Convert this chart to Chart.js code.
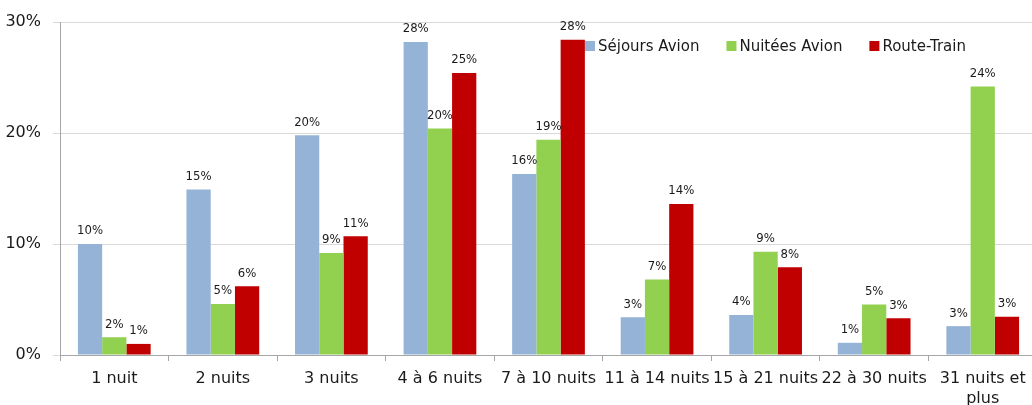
<!DOCTYPE html>
<html lang="fr">
<head>
<meta charset="utf-8">
<script src="https://cdn.jsdelivr.net/npm/chart.js@4"></script>
<style>
  html, body { margin: 0; padding: 0; background: #fff; overflow: hidden; }
  #wrap { width: 1040px; height: 405px; }
</style>
</head>
<body>
<div id="wrap"><canvas id="c" width="1040" height="405"></canvas></div>
<script>
// Durée des séjours : répartition en %
const categories = ["1 nuit", "2 nuits", "3 nuits", "4 à 6 nuits", "7 à 10 nuits",
  "11 à 14 nuits", "15 à 21 nuits", "22 à 30 nuits", ["31 nuits et", "plus"]];
const sejoursAvion = [10.0, 14.9, 19.8, 28.2, 16.3, 3.4, 3.6, 1.1, 2.6];
const nuiteesAvion = [1.6, 4.6, 9.2, 20.4, 19.4, 6.8, 9.3, 4.55, 24.2];
const routeTrain   = [1.0, 6.2, 10.7, 25.4, 28.4, 13.6, 7.9, 3.3, 3.45];
const yTicks = [0, 10, 20, 30];

const FONT = "'DejaVu Sans', sans-serif";
const FONT_NARROW = "'DejaVu Sans Condensed', 'DejaVu Sans', sans-serif";

// Value labels above each bar
const valueLabels = {
  id: 'valueLabels',
  afterDatasetsDraw(chart) {
    const ctx = chart.ctx;
    ctx.save();
    ctx.font = "13px " + FONT_NARROW;
    ctx.fillStyle = '#1a1a1a';
    ctx.textAlign = 'center';
    ctx.textBaseline = 'middle';
    chart.data.datasets.forEach((ds, i) => {
      chart.getDatasetMeta(i).data.forEach((bar, j) => {
        ctx.fillText(Math.round(ds.data[j]) + '%', bar.x, bar.y - 13);
      });
    });
    ctx.restore();
  }
};

// Legend drawn inside the plot, top right
const insideLegend = {
  id: 'insideLegend',
  afterDraw(chart, args, opts) {
    const ctx = chart.ctx;
    ctx.save();
    ctx.font = "15px " + FONT;
    ctx.textBaseline = 'middle';
    ctx.textAlign = 'left';
    let x = opts.x;
    const y = opts.y;
    chart.data.datasets.forEach(ds => {
      ctx.fillStyle = ds.backgroundColor;
      ctx.fillRect(x, y - 5, 10, 10);
      ctx.fillStyle = '#1a1a1a';
      ctx.fillText(ds.label, x + 13, y + 1);
      x += 13 + ctx.measureText(ds.label).width + 27;
    });
    ctx.restore();
  }
};

new Chart(document.getElementById('c'), {
  type: 'bar',
  data: {
    labels: categories,
    datasets: [
      { label: 'Séjours Avion', data: sejoursAvion, backgroundColor: '#95B3D7' },
      { label: 'Nuitées Avion', data: nuiteesAvion, backgroundColor: '#92D050' },
      { label: 'Route-Train',   data: routeTrain,   backgroundColor: '#C00000' }
    ]
  },
  options: {
    responsive: false,
    animation: false,
    devicePixelRatio: 1,
    datasets: { bar: { categoryPercentage: 0.67, barPercentage: 1.0, borderWidth: 0 } },
    layout: { padding: { top: 22, right: 3, left: 0, bottom: 0 } },
    plugins: {
      legend: { display: false },
      tooltip: { enabled: false },
      insideLegend: { x: 585, y: 46 }
    },
    scales: {
      x: {
        offset: true,
        grid: { offset: true, drawOnChartArea: false, drawTicks: true, tickLength: 6, color: '#a6a6a6' },
        border: { color: '#a6a6a6' },
        ticks: {
          autoSkip: false, maxRotation: 0, minRotation: 0, padding: 7,
          color: '#1a1a1a', font: { family: FONT, size: 16, lineHeight: 1.3 }
        },
        afterFit(scale) { scale.height = 50; }
      },
      y: {
        min: 0, max: 30,
        afterBuildTicks(scale) { scale.ticks = yTicks.map(v => ({ value: v })); },
        grid: { color: '#d9d9d9', tickLength: 7, tickColor: '#d9d9d9' },
        border: { color: '#a6a6a6' },
        ticks: {
          padding: 12, color: '#1a1a1a',
          font: { family: FONT, size: 16 },
          callback: v => v + '%'
        },
        afterFit(scale) { scale.width = 60; }
      }
    }
  },
  plugins: [valueLabels, insideLegend]
});
</script>
</body>
</html>
